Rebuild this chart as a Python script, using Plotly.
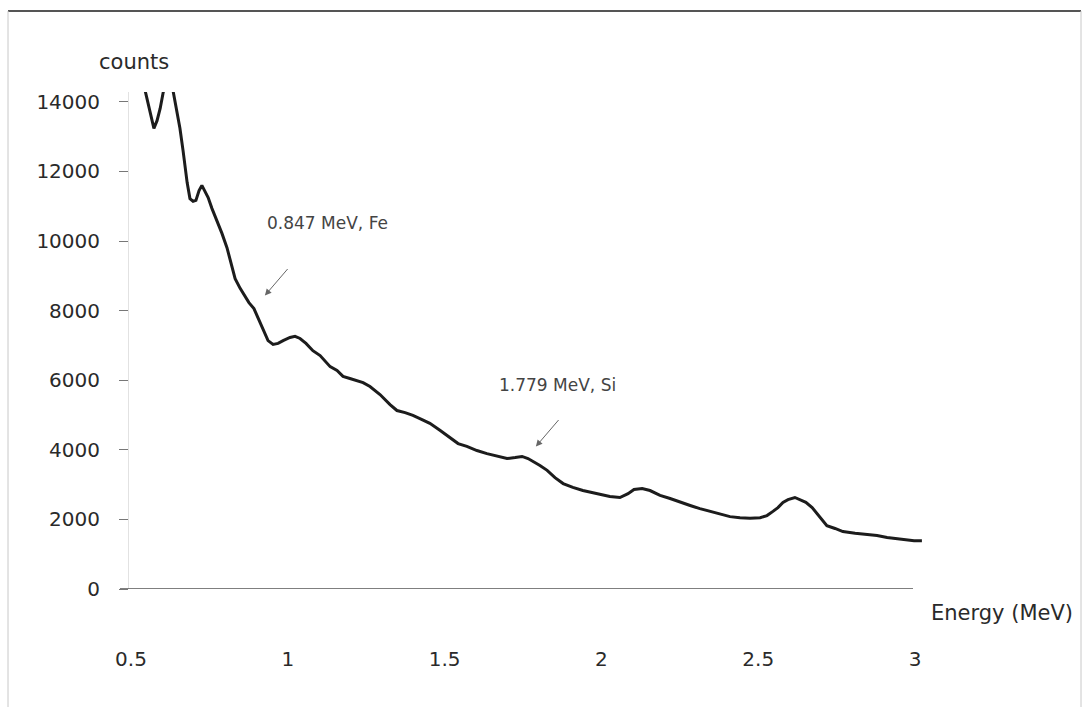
import plotly.graph_objects as go

# ---- data ----
energy_mev = [0.542, 0.554, 0.564, 0.573, 0.583, 0.593, 0.602, 0.612, 0.620, 0.631, 0.640, 0.650,
              0.656, 0.666, 0.672, 0.679, 0.688, 0.698, 0.707, 0.717, 0.726, 0.736, 0.746, 0.758,
              0.774, 0.790, 0.806, 0.819, 0.832, 0.848, 0.860, 0.876, 0.892, 0.908, 0.921, 0.937,
              0.953, 0.969, 0.985, 1.007, 1.023, 1.039, 1.058, 1.080, 1.103, 1.135, 1.157, 1.176,
              1.198, 1.221, 1.240, 1.262, 1.294, 1.326, 1.348, 1.374, 1.399, 1.428, 1.453, 1.485,
              1.517, 1.543, 1.571, 1.603, 1.635, 1.667, 1.699, 1.725, 1.747, 1.766, 1.785, 1.804,
              1.827, 1.852, 1.878, 1.909, 1.941, 1.970, 1.996, 2.027, 2.059, 2.085, 2.104, 2.130,
              2.155, 2.187, 2.219, 2.251, 2.283, 2.314, 2.346, 2.378, 2.410, 2.442, 2.474, 2.506,
              2.528, 2.547, 2.563, 2.579, 2.595, 2.617, 2.633, 2.652, 2.672, 2.688, 2.704, 2.719,
              2.745, 2.770, 2.809, 2.847, 2.879, 2.911, 2.943, 2.975, 2.997, 3.022]
counts = [14440, 13950, 13610, 13240, 13460, 13810, 14240, 14610, 15000, 14470, 14040, 13520,
          13240, 12600, 12090, 11680, 11220, 11140, 11170, 11450, 11600, 11400, 11250, 10940,
          10590, 10220, 9810, 9380, 8920, 8640, 8460, 8230, 8060, 7720, 7430, 7140,
          7030, 7060, 7140, 7230, 7260, 7200, 7060, 6850, 6710, 6390, 6280, 6110,
          6050, 5990, 5930, 5820, 5590, 5300, 5130, 5070, 4990, 4870, 4760, 4560,
          4350, 4180, 4100, 3980, 3890, 3810, 3750, 3780, 3810, 3750, 3660, 3550,
          3410, 3200, 3030, 2920, 2830, 2770, 2720, 2660, 2630, 2740, 2860, 2890,
          2830, 2690, 2600, 2490, 2400, 2310, 2230, 2170, 2080, 2050, 2030, 2050,
          2110, 2230, 2340, 2490, 2570, 2630, 2570, 2490, 2340, 2170, 1970, 1820,
          1740, 1650, 1600, 1570, 1540, 1480, 1450, 1420, 1390, 1390]

x_ticks = [0.5, 1, 1.5, 2, 2.5, 3]
x_tick_labels = ["0.5", "1", "1.5", "2", "2.5", "3"]
y_ticks = [0, 2000, 4000, 6000, 8000, 10000, 12000, 14000]
y_tick_labels = ["0", "2000", "4000", "6000", "8000", "10000", "12000", "14000"]

peak_labels = ["0.847 MeV, Fe", "1.779 MeV, Si"]
peak_text_pos = [(0.927, 10530), (1.667, 5850)]
peak_arrow_tip = [(0.927, 8435), (1.791, 4095)]

# ---- layout geometry (pixels) ----
W, H = 1088, 707
L, R, T, B = 129, 925, 92, 589
X_RANGE = [0.4936, 3.0319]
Y_RANGE = [0, 14284]


def xp(px):
    return (px - L) / (R - L)


def yp(py):
    return (B - py) / (B - T)


FONT = "DejaVu Sans"
TXT = "#2a2a2a"

fig = go.Figure()
fig.add_trace(go.Scatter(x=energy_mev, y=counts, mode="lines",
                         line=dict(color="#1c1c1c", width=3), showlegend=False,
                         hoverinfo="skip"))

fig.update_layout(
    width=W, height=H,
    margin=dict(l=L, r=W - R, t=T, b=H - B),
    paper_bgcolor="white", plot_bgcolor="white",
    font=dict(family=FONT, color=TXT),
    xaxis=dict(range=X_RANGE, tickvals=x_ticks, ticktext=x_tick_labels,
               showgrid=False, zeroline=False, showline=False, ticks="",
               tickfont=dict(size=20, color=TXT), ticklabelstandoff=56),
    yaxis=dict(range=Y_RANGE, tickvals=y_ticks, ticktext=y_tick_labels,
               showgrid=False, zeroline=False, showline=True, linecolor="#e2e2e2",
               linewidth=1, ticks="outside", ticklen=9, tickcolor="#777",
               tickwidth=1, tickfont=dict(size=20, color=TXT), ticklabelstandoff=15),
)

shapes = []
# x axis line
shapes.append(dict(type="line", xref="paper", yref="y", x0=xp(120), x1=xp(913),
                   y0=0, y1=0, line=dict(color="#555", width=1.5)))
# outer frame
shapes.append(dict(type="line", xref="paper", yref="paper", x0=xp(8), x1=xp(1081),
                   y0=yp(11), y1=yp(11), line=dict(color="#555", width=2)))
shapes.append(dict(type="line", xref="paper", yref="paper", x0=xp(8), x1=xp(8),
                   y0=yp(11), y1=yp(707), line=dict(color="#c8c8c8", width=1)))
shapes.append(dict(type="line", xref="paper", yref="paper", x0=xp(1081), x1=xp(1081),
                   y0=yp(11), y1=yp(707), line=dict(color="#c8c8c8", width=1)))
fig.update_layout(shapes=shapes)

ann = []
ann.append(dict(text="counts", xref="paper", yref="paper", x=xp(97), y=yp(62),
                xanchor="left", yanchor="middle", showarrow=False,
                font=dict(size=21, color=TXT, family=FONT)))
ann.append(dict(text="Energy (MeV)", xref="paper", yref="paper", x=xp(929), y=yp(613),
                xanchor="left", yanchor="middle", showarrow=False,
                font=dict(size=21, color=TXT, family=FONT)))
for lab, (tx, ty), (ax_, ay_) in zip(peak_labels, peak_text_pos, peak_arrow_tip):
    ann.append(dict(text=lab, x=tx, y=ty, xref="x", yref="y", xanchor="left",
                    yanchor="middle", showarrow=False,
                    font=dict(size=17, color="#444", family=FONT)))
    ann.append(dict(text="", x=ax_, y=ay_, xref="x", yref="y", showarrow=True,
                    ax=24, ay=-28, arrowhead=2, arrowsize=1.3, arrowwidth=1,
                    arrowcolor="#666"))
fig.update_layout(annotations=ann)

fig.write_html("out.html")
